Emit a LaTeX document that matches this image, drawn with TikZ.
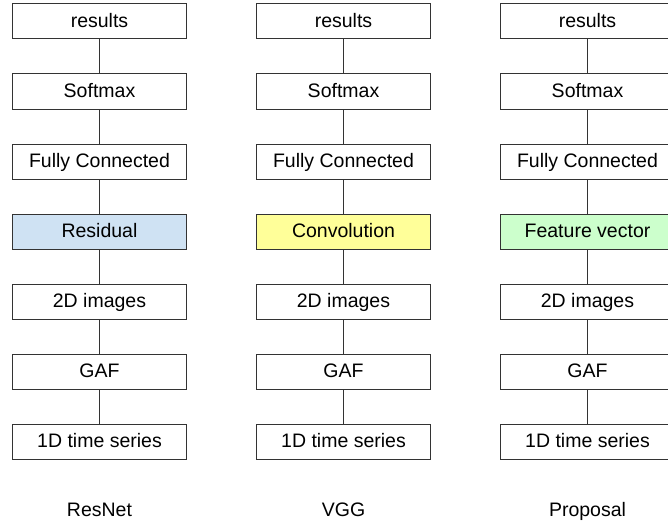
\documentclass[tikz,border=0pt]{standalone}
\usepackage{fontspec}
\setmainfont{Liberation Sans}
\definecolor{resblue}{HTML}{CFE2F3}
\definecolor{convyellow}{HTML}{FFFF99}
\definecolor{featgreen}{HTML}{CCFFCC}
\definecolor{edgegray}{HTML}{333333}
\tikzset{
  layer/.style={draw=edgegray, line width=1pt, fill=white, minimum width=174pt,
    minimum height=35pt, inner sep=0pt, text height=14pt, text depth=1.6pt,
    font=\fontsize{19.5}{23}\selectfont},
  link/.style={draw=edgegray, line width=1pt},
  caption/.style={font=\fontsize{19.5}{23}\selectfont, inner sep=0pt, anchor=base}
}
\begin{document}
\begin{tikzpicture}[x=1pt, y=-1pt]
  \useasboundingbox (0,0) rectangle (668,524);
  \clip (0,0) rectangle (668,524);
  % one column of stacked layers per network
  \foreach \col/\cx/\mid/\fillc/\cap in {
      R/99.5/Residual/resblue/ResNet,
      V/343.5/Convolution/convyellow/VGG,
      P/587.5/Feature vector/featgreen/Proposal} {
    \node[layer] (\col1) at (\cx,21.5)  {results};
    \node[layer] (\col2) at (\cx,91.5)  {Softmax};
    \node[layer] (\col3) at (\cx,161.5) {Fully Connected};
    \node[layer, fill=\fillc] (\col4) at (\cx,231.5) {\mid};
    \node[layer] (\col5) at (\cx,301.5) {2D images};
    \node[layer] (\col6) at (\cx,371.5) {GAF};
    \node[layer] (\col7) at (\cx,441.5) {1D time series};
    \node[caption] (\col8) at (\cx,516.7) {\cap};
    \foreach \a/\b in {1/2,2/3,3/4,4/5,5/6,6/7}
      \draw[link] (\col\a) -- (\col\b);
  }
\end{tikzpicture}
\end{document}
